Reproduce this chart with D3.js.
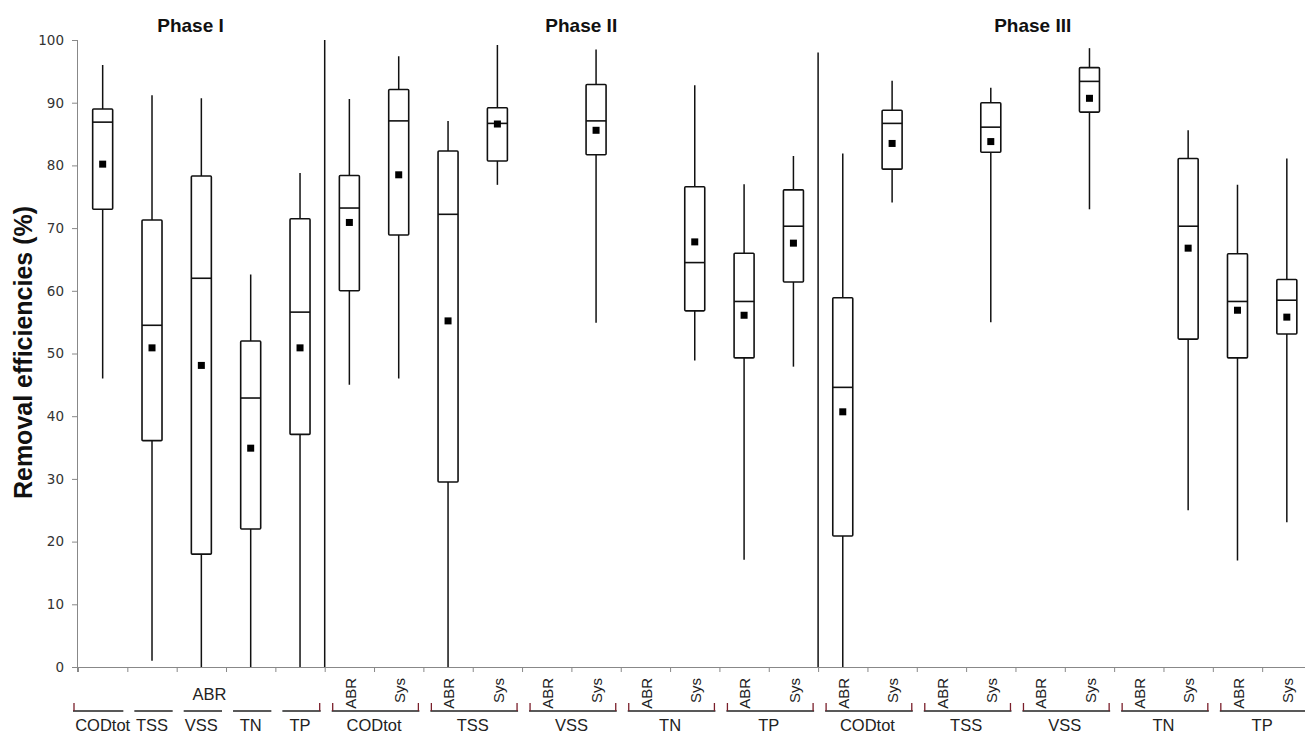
<!DOCTYPE html>
<html>
<head>
<meta charset="utf-8">
<script src="https://cdn.jsdelivr.net/npm/d3@7"></script>
<style>
  body { margin: 0; background: #fff; }
  svg { display: block; }
  .ytick text { font-family: "DejaVu Sans", sans-serif; font-size: 13.5px; fill: #333; }
  .lab { font-family: "Liberation Sans", Arial, sans-serif; font-size: 16.5px; fill: #222; }
  .rlab { font-size: 15px; }
  .title { font-family: "Liberation Sans", Arial, sans-serif; font-weight: bold; fill: #111; }
</style>
</head>
<body>
<svg id="chart" width="1305" height="734"></svg>
<script>
// categories, in plot order
const phases = ["Phase I", "Phase II", "Phase III"];
const params = ["CODtot", "TSS", "VSS", "TN", "TP"];
const reactors = ["ABR", "Sys"];

// box statistics (%), 5 for phase I, then ABR/Sys pairs for phase II and III
const whiskHigh = [96.0, 91.2, 90.7, 62.6, 78.8,
  90.6, 97.4, 87.1, 99.2, null, 98.5, null, 92.8, 77.0, 81.5,
  81.9, 93.5, null, 92.4, null, 98.7, null, 85.6, 76.9, 81.1];
const q3 = [89.0, 71.3, 78.3, 52.0, 71.5,
  78.4, 92.1, 82.3, 89.2, null, 92.9, null, 76.6, 66.0, 76.1,
  58.9, 88.8, null, 90.0, null, 95.6, null, 81.1, 65.9, 61.8];
const median = [86.9, 54.5, 62.0, 42.9, 56.6,
  73.2, 87.1, 72.2, 86.7, null, 87.1, null, 64.5, 58.3, 70.3,
  44.6, 86.7, null, 86.1, null, 93.4, null, 70.3, 58.3, 58.5];
const q1 = [73.0, 36.1, 18.0, 22.0, 37.1,
  60.0, 68.9, 29.5, 80.7, null, 81.7, null, 56.8, 49.3, 61.4,
  20.9, 79.4, null, 82.1, null, 88.5, null, 52.3, 49.3, 53.1];
const whiskLow = [46.0, 1.0, 0, 0, 0,
  45.0, 46.0, 0, 76.9, null, 54.9, null, 48.9, 17.1, 47.9,
  0, 74.1, null, 55.0, null, 73.0, null, 25.0, 17.0, 23.1];
const mean = [80.2, 50.9, 48.1, 34.9, 50.9,
  70.9, 78.5, 55.2, 86.6, null, 85.6, null, 67.8, 56.1, 67.6,
  40.7, 83.5, null, 83.8, null, 90.7, null, 66.8, 56.9, 55.8];

// phase divider heights (%)
const dividerTop = [100, 98];
const yTicks = d3.range(0, 101, 10);

// build the category list
const cats = [];
params.forEach(p => cats.push({ phase: 0, param: p, reactor: null }));
[1, 2].forEach(ph => params.forEach(p => reactors.forEach(r => cats.push({ phase: ph, param: p, reactor: r }))));
cats.forEach((c, i) => {
  c.i = i; c.hi = whiskHigh[i]; c.q3 = q3[i]; c.med = median[i];
  c.q1 = q1[i]; c.lo = whiskLow[i]; c.mean = mean[i];
});

const svg = d3.select("#chart");
const nCat = cats.length;
const step = 49.34;
const x = d3.scaleLinear().domain([0, nCat]).range([78, 78 + nCat * step]);
const y = d3.scaleLinear().domain([0, 100]).range([667, 40]);
const boxW = 20;

// y axis
const yAxis = svg.append("g").attr("class", "ytick")
  .attr("transform", "translate(78,0)")
  .call(d3.axisLeft(y).tickValues(yTicks).tickSize(6).tickPadding(8));
yAxis.select(".domain").attr("stroke", "#888").attr("d", `M-0.5,${y(100)}V672`);
yAxis.selectAll(".tick line").attr("stroke", "#888");

// x axis with ticks at category boundaries
const xAxis = svg.append("g")
  .attr("transform", "translate(0,667)")
  .call(d3.axisBottom(x).tickValues(d3.range(nCat + 1)).tickSize(5).tickFormat(""));
xAxis.select(".domain").attr("stroke", "#888").attr("d", `M78,0.5H1305`);
xAxis.selectAll(".tick line").attr("stroke", "#888");

// phase dividers
svg.selectAll(".divider").data(dividerTop).join("line")
  .attr("class", "divider")
  .attr("x1", (d, k) => x(k === 0 ? 5 : 15)).attr("x2", (d, k) => x(k === 0 ? 5 : 15))
  .attr("y1", y(0)).attr("y2", d => y(d))
  .attr("stroke", "#111").attr("stroke-width", 1.5);

// boxes
const boxes = svg.append("g").selectAll("g").data(cats.filter(c => c.hi != null)).join("g")
  .attr("transform", c => `translate(${x(c.i + 0.5)},0)`);

boxes.append("line")
  .attr("y1", c => y(c.lo)).attr("y2", c => y(c.hi))
  .attr("stroke", "#111").attr("stroke-width", 1.5);
boxes.append("rect")
  .attr("x", -boxW / 2).attr("width", boxW)
  .attr("y", c => y(c.q3)).attr("height", c => y(c.q1) - y(c.q3))
  .attr("rx", 1)
  .attr("fill", "#fff").attr("stroke", "#111").attr("stroke-width", 1.6);
boxes.append("line")
  .attr("x1", -boxW / 2).attr("x2", boxW / 2)
  .attr("y1", c => y(c.med)).attr("y2", c => y(c.med))
  .attr("stroke", "#111").attr("stroke-width", 1.6);
boxes.append("rect")
  .attr("x", -3.5).attr("width", 7)
  .attr("y", c => y(c.mean) - 3.5).attr("height", 7)
  .attr("fill", "#000");

// titles
const titleAt = [2.28, 10.2, 19.35];
svg.selectAll(".ptitle").data(phases).join("text")
  .attr("class", "title")
  .attr("x", (d, k) => x(titleAt[k])).attr("y", 32)
  .attr("text-anchor", "middle").attr("font-size", 19)
  .text(d => d);

svg.append("text").attr("class", "title")
  .attr("transform", `translate(32,${y(50) - 1}) rotate(-90)`)
  .attr("text-anchor", "middle").attr("font-size", 25)
  .text("Removal efficiencies (%)");

// reactor labels
svg.append("text").attr("class", "lab")
  .attr("x", x(2.5) + 8).attr("y", 700).attr("text-anchor", "middle")
  .text("ABR");
svg.selectAll(".rlab").data(cats.filter(c => c.reactor)).join("text")
  .attr("class", "lab rlab")
  .attr("transform", c => `translate(${x(c.i + 0.5) + 1},678) rotate(-90)`)
  .attr("dy", "0.35em").attr("text-anchor", "end")
  .text(c => c.reactor);

// group brackets and names
const groups = [];
params.forEach((p, k) => groups.push({ name: p, a: k, b: k + 1, phase: 0 }));
[1, 2].forEach(ph => params.forEach((p, k) => {
  const a = 5 + (ph - 1) * 10 + k * 2;
  groups.push({ name: p, a: a, b: a + 2, phase: ph });
}));

const gb = svg.append("g").selectAll("g").data(groups).join("g");
gb.append("line")
  .attr("x1", g => g.a === 0 ? x(g.a) - 5 : x(g.a) + 7)
  .attr("x2", g => Math.min(x(g.b) - 4, 1310))
  .attr("y1", 711).attr("y2", 711)
  .attr("stroke", "#222").attr("stroke-width", 1.3);
gb.filter(g => g.phase > 0 || g.a === 0).append("line")
  .attr("x1", g => g.a === 0 ? x(g.a) - 4 : x(g.a) + 8).attr("x2", g => g.a === 0 ? x(g.a) - 4 : x(g.a) + 8)
  .attr("y1", 703).attr("y2", 711)
  .attr("stroke", "#7a1f2b").attr("stroke-width", 1.3);
gb.filter(g => g.phase > 0 || g.a === 4).append("line")
  .attr("x1", g => x(g.b) - 5).attr("x2", g => x(g.b) - 5)
  .attr("y1", 703).attr("y2", 711)
  .attr("stroke", "#7a1f2b").attr("stroke-width", 1.3);
gb.append("text").attr("class", "lab")
  .attr("x", g => x((g.a + g.b) / 2)).attr("y", 731)
  .attr("text-anchor", "middle")
  .text(g => g.name);
</script>
</body>
</html>
